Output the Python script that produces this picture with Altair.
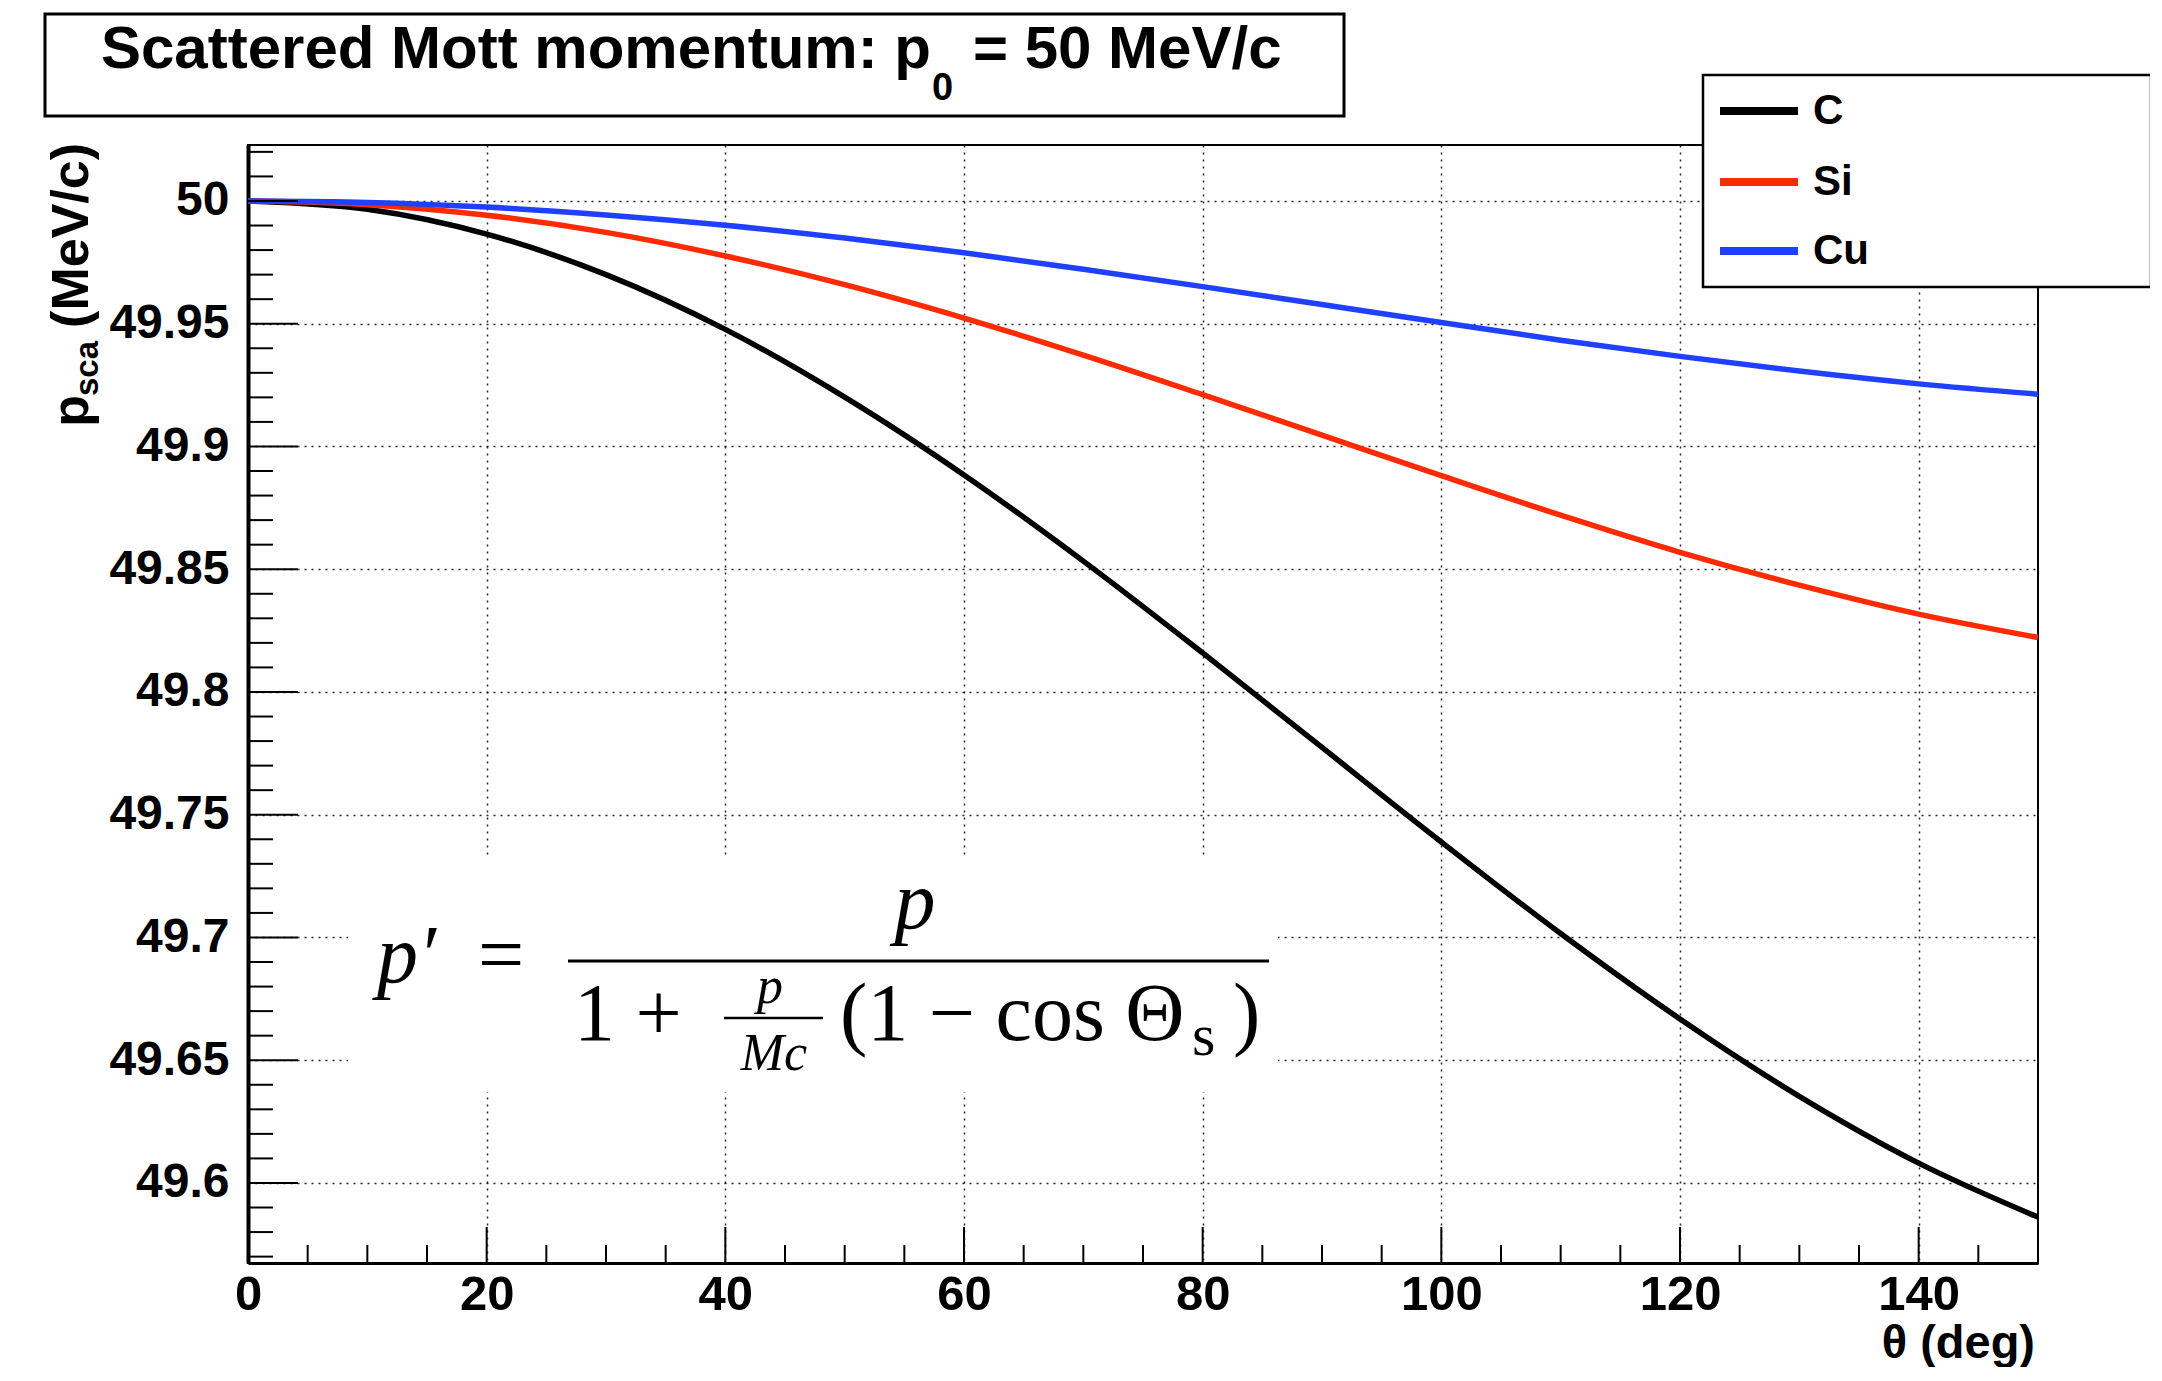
import altair as alt
import pandas as pd

# ---------------- data ----------------
theta_deg = [0, 10, 20, 30, 40, 50, 60, 70, 80, 90, 100, 110, 120, 130, 140, 150]
p_C = [50.0, 49.9966, 49.9865, 49.9700, 49.9477, 49.9201, 49.8884, 49.8533,
       49.8159, 49.7774, 49.7389, 49.7016, 49.6668, 49.6353, 49.6081, 49.5861]
p_Si = [50.0, 49.9985, 49.9942, 49.9872, 49.9776, 49.9659, 49.9523, 49.9372,
        49.9211, 49.9046, 49.8881, 49.8720, 49.8569, 49.8435, 49.8317, 49.8222]
p_Cu = [50.0, 49.9994, 49.9975, 49.9943, 49.9901, 49.9849, 49.9789, 49.9722,
        49.9651, 49.9578, 49.9505, 49.9433, 49.9367, 49.9307, 49.9255, 49.9213]
series = ["C", "Si", "Cu"]
colors = ["#000000", "#ff2a00", "#2040ff"]

x_labels = [0, 20, 40, 60, 80, 100, 120, 140]
y_labels = [49.6, 49.65, 49.7, 49.75, 49.8, 49.85, 49.9, 49.95, 50.0]
x_minor = [v for v in range(5, 151, 5) if v % 20 != 0]
y_minor = [round(49.57 + 0.01 * i, 2) for i in range(46)]
y_minor = [v for v in y_minor if round(v * 100) % 5 != 0]

x_domain = [0, 150]
y_domain = [49.5674, 50.0228]

W, H = 1790, 1118
SANS = "Liberation Sans"
SERIF = "Liberation Serif"

rows = []
for name, vals in zip(series, [p_C, p_Si, p_Cu]):
    for t, p in zip(theta_deg, vals):
        rows.append({"theta": t, "p": p, "series": name})
df = pd.DataFrame(rows)

xs = alt.Scale(domain=x_domain, nice=False, zero=False)
ys = alt.Scale(domain=y_domain, nice=False, zero=False)
one = alt.Data(values=[{"a": 1}])

# ---------------- main lines ----------------
lines = alt.Chart(df).mark_line(strokeWidth=5.5, interpolate="monotone").encode(
    x=alt.X("theta:Q", scale=xs, title=None,
            axis=alt.Axis(values=x_labels, format="d", title=None, ticks=False, tickSize=0,
                          labelPadding=7, labelFontSize=49, grid=True)),
    y=alt.Y("p:Q", scale=ys, title=None,
            axis=alt.Axis(values=y_labels, labelExpr="'' + datum.value", title=None,
                          ticks=False, tickSize=0, labelPadding=19, labelFontSize=48, grid=True)),
    color=alt.Color("series:N", scale=alt.Scale(domain=series, range=colors), legend=None),
)

# ---------------- inward ticks ----------------
def yticks(vals, length):
    return alt.Chart(pd.DataFrame({"v": vals})).mark_rule(color="black", strokeWidth=2).encode(
        y=alt.Y("v:Q", scale=ys, title=None), x=alt.value(0), x2=alt.value(length))

def xticks(vals, length):
    return alt.Chart(pd.DataFrame({"v": vals})).mark_rule(color="black", strokeWidth=2).encode(
        x=alt.X("v:Q", scale=xs, title=None), y=alt.value(H), y2=alt.value(H - length))

ticks = [yticks(y_minor, 25), yticks(y_labels, 50), xticks(x_minor, 18), xticks(x_labels, 36)]

# ---------------- helpers for annotations ----------------
def txt(s, x, y, size, align="left", baseline="alphabetic", font=SANS, weight="bold",
        style="normal", angle=0):
    kw = dict(text=s, align=align, baseline=baseline, font=font, fontSize=size,
              fontWeight=weight, fontStyle=style, color="black")
    if angle:
        kw["angle"] = angle
    return alt.Chart(one).mark_text(**kw).encode(x=alt.value(x), y=alt.value(y))

def box(x, x2, y, y2, stroke="black", sw=2.5):
    return alt.Chart(one).mark_rect(fill="white", stroke=stroke, strokeWidth=sw).encode(
        x=alt.value(x), x2=alt.value(x2), y=alt.value(y), y2=alt.value(y2))

def hline(x, x2, y, color="black", sw=3):
    return alt.Chart(one).mark_rule(color=color, strokeWidth=sw).encode(
        x=alt.value(x), x2=alt.value(x2), y=alt.value(y))

# formula
formula = [
    alt.Chart(one).mark_rect(fill="white").encode(
        x=alt.value(100), x2=alt.value(1030), y=alt.value(710), y2=alt.value(947)),
    txt("p′", 129, 837, 82, font=SERIF, weight="normal", style="italic"),
    txt("=", 253, 837, 82, align="center", font=SERIF, weight="normal"),
    hline(320, 1021, 816, sw=3),
    txt("p", 667, 783, 82, align="center", font=SERIF, weight="normal", style="italic"),
    txt("1 +", 326, 895, 82, font=SERIF, weight="normal"),
    txt("p", 522, 858, 52, align="center", font=SERIF, weight="normal", style="italic"),
    hline(476, 575, 873, sw=2.5),
    txt("Mc", 526, 925, 52, align="center", font=SERIF, weight="normal", style="italic"),
    txt("(1 − cos Θ", 592, 895, 82, font=SERIF, weight="normal"),
    txt("s", 944, 910, 60, font=SERIF, weight="normal"),
    txt(")", 985, 895, 82, font=SERIF, weight="normal"),
]

# title box
title = [
    box(-203, 1096, -131, -29, sw=3),
    txt("Scattered Mott momentum: p", 683, -77, 60, align="right"),
    txt("0", 684, -45, 38),
    txt("= 50 MeV/c", 725, -77, 60),
]

# axis titles
axis_titles = [
    txt("(MeV/c)", -160, -2, 52, align="right", angle=270),
    txt("sca", -150, 196, 33, align="right", angle=270),
    txt("p", -160, 250, 52, align="right", angle=270),
    txt("θ (deg)", 1787, 1213, 47, align="right"),
]

# legend
legend = [box(1455, 1903, -70, 142, sw=2.5)]
for name, col, yy in zip(series, colors, [-34, 37, 106]):
    legend.append(hline(1472, 1550, yy, color=col, sw=8))
    legend.append(txt(name, 1565, yy, 42, baseline="middle"))

chart = alt.layer(lines, *ticks, *formula, *title, *axis_titles, *legend).properties(
    width=W, height=H,
    autosize=alt.AutoSizeParams(type="none"),
    padding={"left": 240, "top": 137, "right": 112, "bottom": 104},
).configure_view(
    stroke="black", strokeWidth=2
).configure_axis(
    domainColor="black", labelColor="black", labelFont=SANS, labelFontWeight="bold",
    labelFlush=False, labelOverlap=False, labelBound=False,
    gridColor="black", gridDash=[2, 5], gridWidth=1.5, gridOpacity=0.85,
).configure_axisX(domainWidth=3).configure_axisY(domainWidth=4)

chart.save("out.html", embed_options={"renderer": "svg", "actions": False})
